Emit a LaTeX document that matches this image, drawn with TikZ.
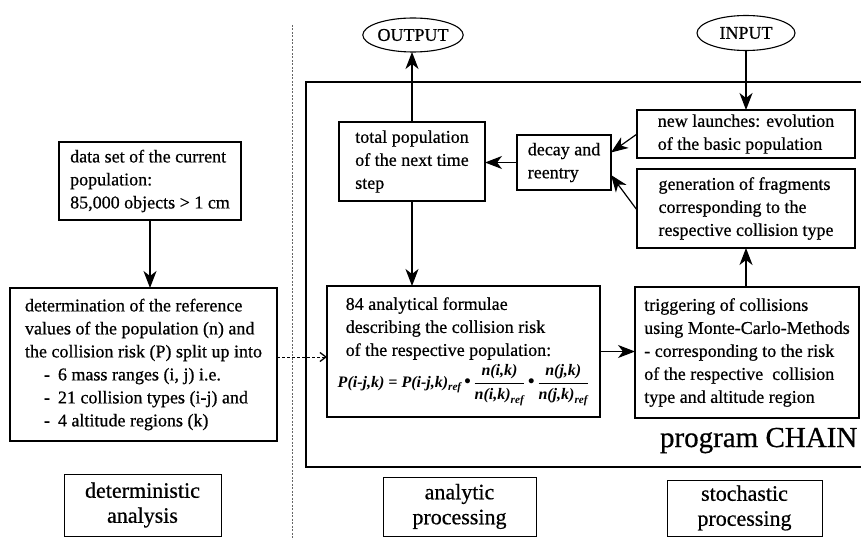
\documentclass[tikz,border=0pt]{standalone}
\usepackage{fontspec}
\setmainfont{Liberation Serif}[UprightFeatures={FakeBold=0.6}]
\usepackage{amsmath}
\usetikzlibrary{arrows.meta,shapes.geometric,calc}

% bold italic for the formula
\newcommand{\bfit}[1]{{\bfseries\itshape #1}}
% product dot of the formula
\newcommand{\pdot}{\,\raisebox{0.35ex}{\scalebox{0.75}{$\bullet$}}\,}

\begin{document}
\begin{tikzpicture}[x=1pt,y=-1pt,
  every node/.style={inner sep=0pt,outer sep=0pt},
  box/.style={draw,line width=1.2pt,align=left,
    font=\fontsize{18}{23}\selectfont},
  tag/.style={draw,line width=0.7pt,align=center,
    font=\fontsize{22}{25}\selectfont},
  term/.style={draw,ellipse,line width=1.1pt,inner sep=0pt,
    font=\fontsize{18}{22}\selectfont},
  flow/.style={line width=1.2pt,-{Stealth[length=17pt,width=13pt,inset=5pt]}},
  link/.style={line width=0.8pt,dash pattern=on 3pt off 2pt,
    -{Straight Barb[length=6pt,width=9pt,line width=1.3pt]}},
  divider/.style={line width=0.7pt,black!60,dash pattern=on 2pt off 1.5pt},
  frame/.style={line width=1.2pt}
]
\useasboundingbox (0,0) rectangle (861,540);

% separator between the deterministic and the program part
\coordinate (dtop) at (292,25);
\coordinate (dbot) at (292,540);
\draw[divider] (dtop) -- (dbot);

% frame of the program CHAIN (open to the right)
\draw[frame] (862,82) -- (306,82) -- (306,467) -- (862,467);
\node[anchor=base west,font=\fontsize{29}{32}\selectfont] (chain) at (660,447) {program CHAIN};

% terminals
\node[term,minimum width=100pt,minimum height=34pt] (out) at (413,35) {OUTPUT};
\node[term,minimum width=98pt,minimum height=35pt] (in) at (746,33) {INPUT};

% deterministic part
\node[box,minimum width=182pt,minimum height=78pt] (data) at (150,181)
  {data set of the current\\population:\\85,000 objects > 1 cm};
\node[box,minimum width=267pt,minimum height=153pt] (det) at (143.5,364.5)
  {determination of the reference\\
   values of the population (n) and\\
   the collision risk (P) split up into\\
   \hspace*{19pt}-\hspace{8pt}6 mass ranges (i, j) i.e.\\
   \hspace*{19pt}-\hspace{8pt}21 collision types (i-j) and\\
   \hspace*{19pt}-\hspace{8pt}4 altitude regions (k)};

% analytic part
\node[box,minimum width=146pt,minimum height=79pt] (tot) at (412,161.5)
  {total population\\of the next time\\step};
\node[box,minimum width=273pt,minimum height=131pt] (form) at (463.5,351.5)
  {\hspace*{8pt}84 analytical formulae\\
   \hspace*{8pt}describing the collision risk\\
   \hspace*{8pt}of the respective population:\\[4pt]
   {\fontsize{16}{20}\selectfont
   \bfit{P(i-j,k) = P(i-j,k)}$_{\text{\bfit{ref}}}$\pdot
   $\dfrac{\text{\bfit{n(i,k)}}}{\text{\bfit{n(i,k)}}_{\text{\bfit{ref}}}}$\pdot
   $\dfrac{\text{\bfit{n(j,k)}}}{\text{\bfit{n(j,k)}}_{\text{\bfit{ref}}}}$}};

% stochastic part
\node[box,minimum width=94pt,minimum height=55pt] (decay) at (564,162.5)
  {decay and\\reentry};
\node[box,minimum width=218pt,minimum height=48pt] (newl) at (746,134)
  {new launches: evolution\\of the basic population};
\node[box,minimum width=218pt,minimum height=79pt] (gen) at (746,208.5)
  {generation of fragments\\corresponding to the\\respective collision type};
\node[box,minimum width=224pt,minimum height=131pt] (trig) at (747,352.5)
  {triggering of collisions\\
   using Monte-Carlo-Methods\\
   - corresponding to the risk\\
   of the respective\ \ collision\\
   type and altitude region};

% labels of the three parts
\node[tag,minimum width=157pt,minimum height=62pt] (ldet) at (142.5,505)
  {deterministic\\analysis};
\node[tag,minimum width=153pt,minimum height=59pt] (lana) at (459.5,506.5)
  {analytic\\processing};
\node[tag,minimum width=155pt,minimum height=56pt] (lsto) at (744.5,508)
  {stochastic\\processing};

% connectors
\draw[flow] (data.south) -- (data.south |- det.north);
\coordinate (dj) at (0,357);
\draw[link] (det.east |- dj) -- (form.west |- dj);
\draw[flow] (tot.north) -- (tot.north |- out.south);
\draw[flow] (in.south) -- (in.south |- newl.north);
\draw[flow] (decay.west) -- (decay.west -| tot.east);
\draw[flow] (newl.west) -- ($(decay.east)+(0,-10)$);
\draw[flow] ([yshift=-1.5pt]gen.west) -- ($(decay.east)+(0,12.5)$);
\draw[flow] (tot.south) -- (tot.south |- form.north);
\draw[flow] (form.east) -- (form.east -| trig.west);
\draw[flow] (trig.north -| gen.south) -- (gen.south);
\end{tikzpicture}
\end{document}
